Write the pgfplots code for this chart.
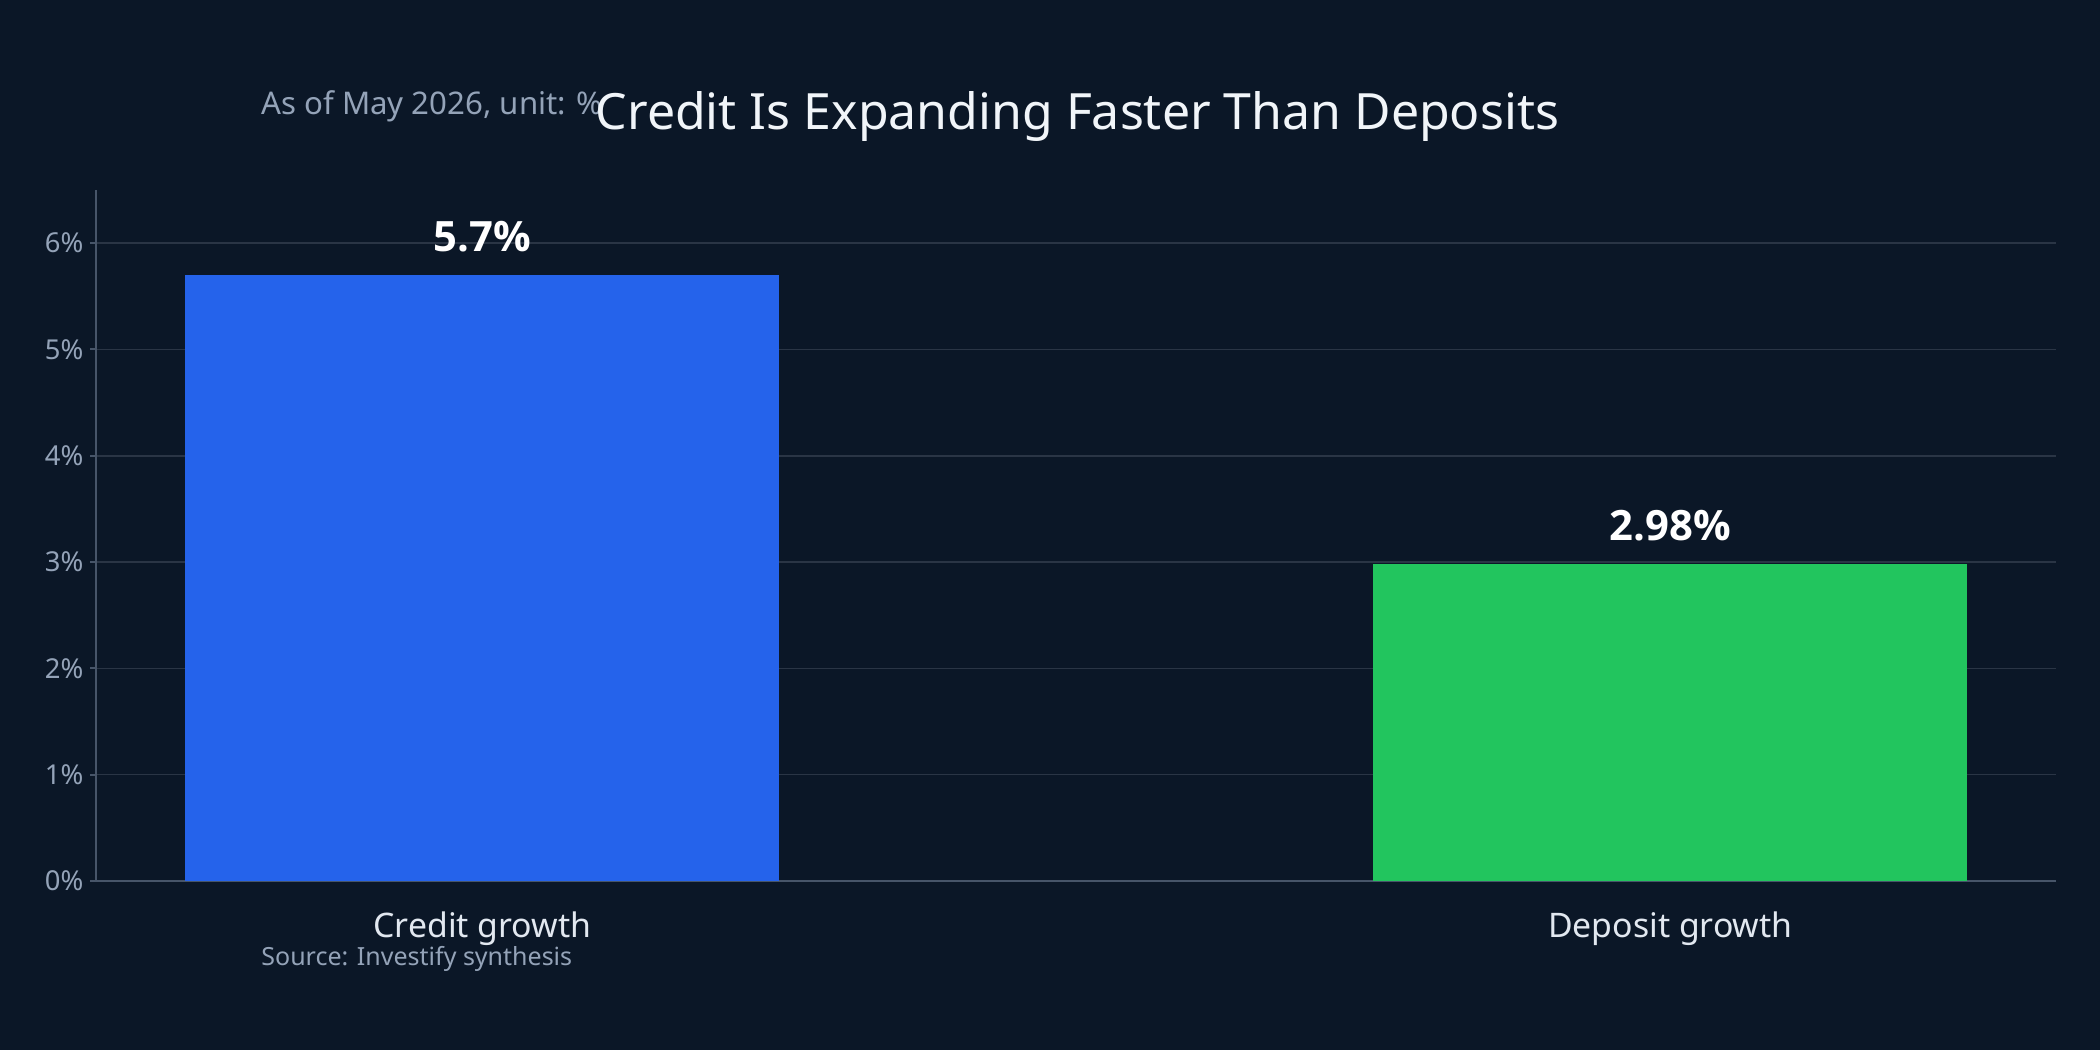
\documentclass[border=0pt]{standalone}
\usepackage{pgfplots}
\pgfplotsset{compat=1.18}
\usepackage{fontspec}
\setmainfont{Noto Sans}
\newfontfamily\valuefont{Open Sans}

\definecolor{bgcol}{HTML}{0B1727}
\definecolor{creditblue}{HTML}{2563EB}
\definecolor{depositgreen}{HTML}{22C55E}
\definecolor{gridcol}{HTML}{2A3545}
\definecolor{axcol}{HTML}{475569}
\definecolor{mutedcol}{HTML}{94A3B8}
\definecolor{labelcol}{HTML}{E2E8F0}
\definecolor{titlecol}{HTML}{F1F5F9}

\begin{document}
\begin{tikzpicture}
	\fill[bgcol] (0,0) rectangle (1050bp,525bp);
	\useasboundingbox (0,0) rectangle (1050bp,525bp);

	\begin{axis}[
		at={(48.2bp,84.5bp)},
		anchor=south west,
		scale only axis,
		width=980bp,
		height=345.5bp,
		xmin=-0.325, xmax=1.325,
		ymin=0, ymax=6.5,
		clip=false,
		axis lines*=left,
		axis line style={draw=axcol, line width=1bp, -},
		ymajorgrids,
		grid style={draw=gridcol, line width=0.8bp},
		xtick={0,1},
		xticklabels={Credit growth, Deposit growth},
		major x tick style={draw=none},
		xticklabel style={anchor=base, yshift=-25bp, font=\fontsize{16.9bp}{20bp}\selectfont, text=labelcol},
		ytick={0,1,2,3,4,5,6},
		yticklabels={0\%,1\%,2\%,3\%,4\%,5\%,6\%},
		tick align=outside,
		major tick length=3bp,
		major y tick style={draw=axcol, line width=1bp},
		yticklabel style={font=\fontsize{13.7bp}{16bp}\selectfont, text=mutedcol},
		nodes near coords,
		point meta=explicit symbolic,
		every node near coord/.append style={anchor=base, yshift=11.7bp, text=white,
			font=\valuefont\fontsize{20.9bp}{24bp}\selectfont\bfseries},
	]
	% credit growth
	\addplot[ybar, bar width=0.5, bar shift=0pt, fill=creditblue, draw=none]
		coordinates {(0,5.7) [5.7\%]};
	% deposit growth
	\addplot[ybar, bar width=0.5, bar shift=0pt, fill=depositgreen, draw=none]
		coordinates {(1,2.98) [2.98\%]};
	\end{axis}

	\node[anchor=base west, text=mutedcol, font=\fontsize{15.6bp}{18bp}\selectfont, inner sep=0pt]
		at (130.5bp,467.5bp) {As of May 2026, unit: \%};
	\node[anchor=base, text=titlecol, font=\fontsize{25bp}{30bp}\selectfont, inner sep=0pt]
		at (538.7bp,460bp) {Credit Is Expanding Faster Than Deposits};
	\node[anchor=base west, text=mutedcol, font=\fontsize{12.5bp}{15bp}\selectfont, inner sep=0pt]
		at (130.5bp,42.2bp) {Source: Investify synthesis};
\end{tikzpicture}
\end{document}
